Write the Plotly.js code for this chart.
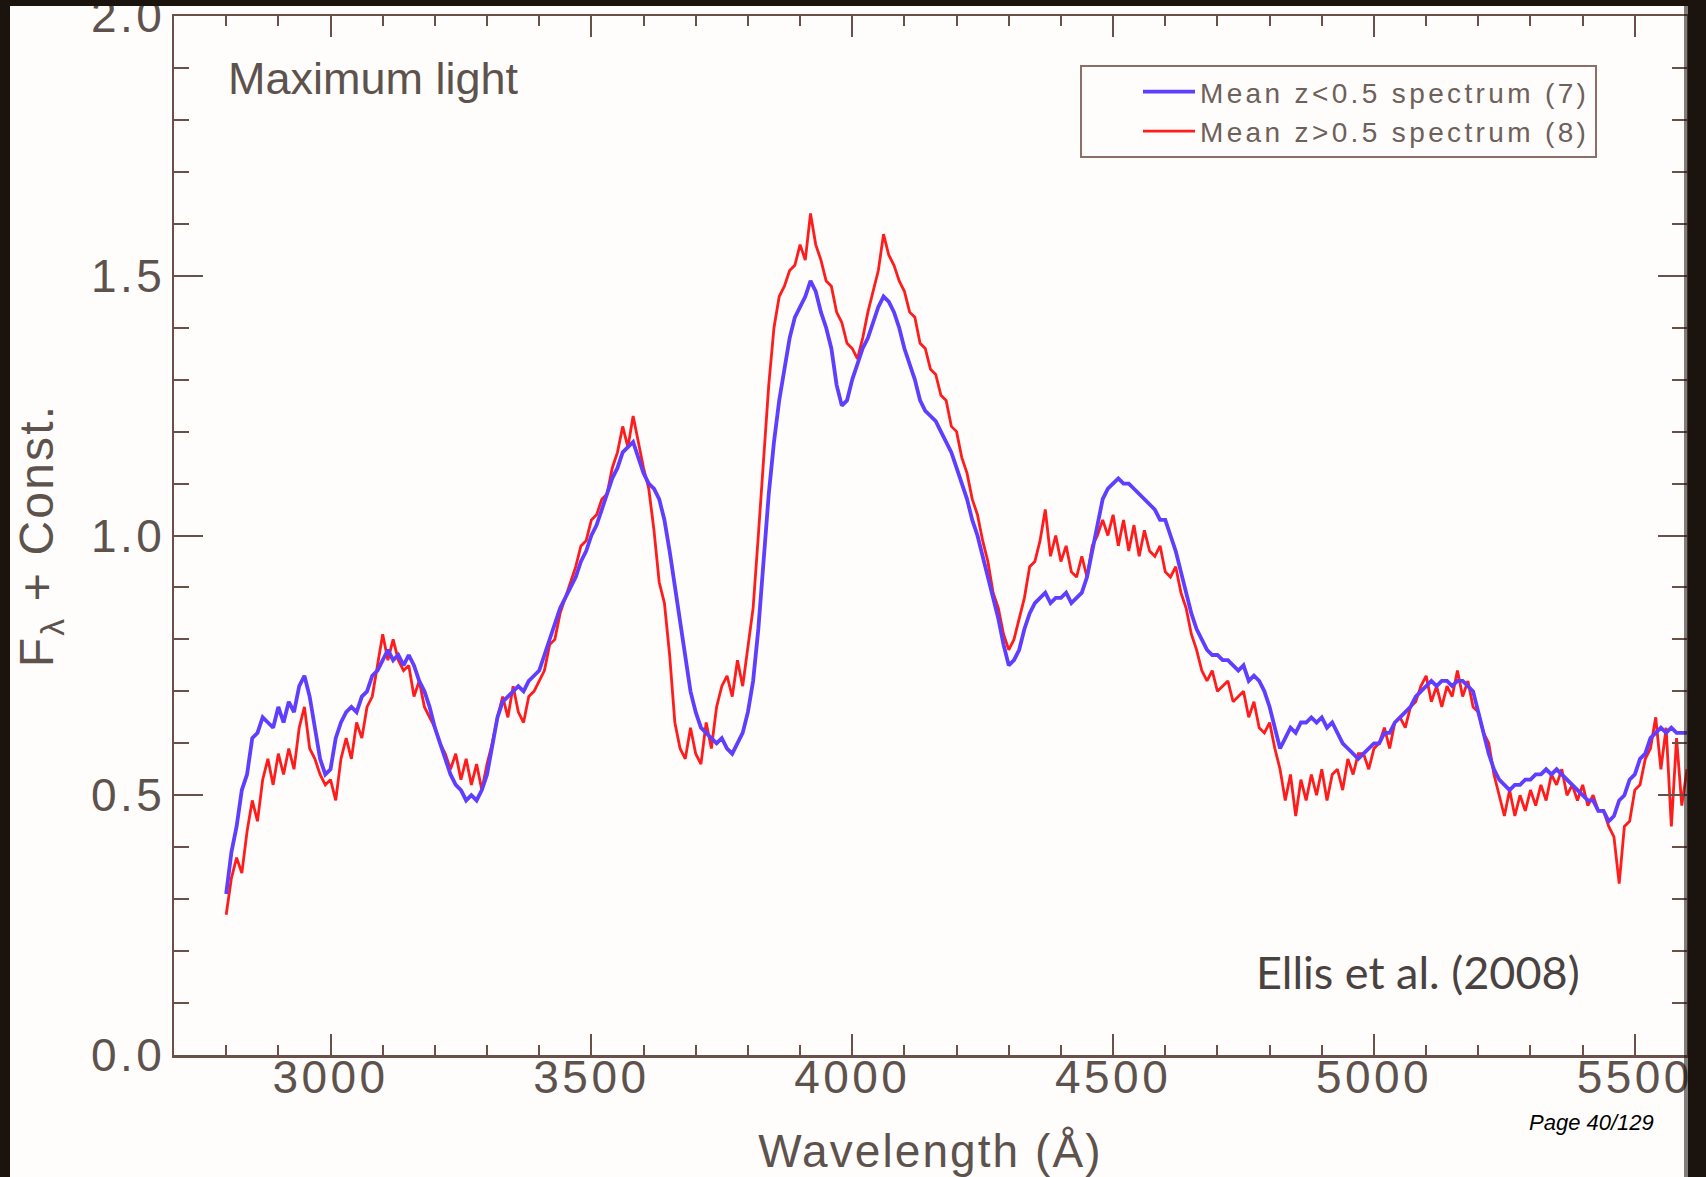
<!DOCTYPE html>
<html>
<head>
<meta charset="utf-8">
<script src="https://cdn.plot.ly/plotly-3.0.1.min.js"></script>
<style>
  html, body { margin: 0; padding: 0; background: #fffdfb; overflow: hidden; }
  #chart { width: 1706px; height: 1177px; }
  g.xtick text, g.ytick text { letter-spacing: 0.075em; }
  text.xtitle, text.ytitle { letter-spacing: 0.045em; }
  text.legendtext { letter-spacing: 0.12em; }
</style>
</head>
<body>
<div id="chart"></div>
<script>
// Wavelength grid (Angstrom), 10 A steps from 2800 to 5600
const wavelength = [];
for (let w = 2800; w <= 5600; w += 10) wavelength.push(w);

// Mean z<0.5 spectrum (7)
const fluxLowZ = [
  0.31, 0.39, 0.44, 0.51, 0.54, 0.61, 0.62, 0.65, 0.64, 0.63,
  0.67, 0.64, 0.68, 0.66, 0.71, 0.73, 0.69, 0.63, 0.57, 0.54,
  0.55, 0.61, 0.64, 0.66, 0.67, 0.66, 0.69, 0.70, 0.73, 0.74,
  0.76, 0.78, 0.76, 0.77, 0.75, 0.77, 0.75, 0.72, 0.70, 0.67,
  0.63, 0.60, 0.57, 0.54, 0.52, 0.51, 0.49, 0.50, 0.49, 0.51,
  0.54, 0.60, 0.65, 0.68, 0.69, 0.70, 0.71, 0.70, 0.72, 0.73,
  0.74, 0.77, 0.80, 0.83, 0.86, 0.88, 0.90, 0.92, 0.95, 0.97,
  1.00, 1.02, 1.05, 1.08, 1.11, 1.13, 1.16, 1.17, 1.18, 1.15,
  1.12, 1.10, 1.09, 1.07, 1.03, 0.97, 0.90, 0.83, 0.76, 0.70,
  0.66, 0.63, 0.62, 0.61, 0.60, 0.61, 0.59, 0.58, 0.60, 0.62,
  0.66, 0.72, 0.82, 0.95, 1.08, 1.18, 1.26, 1.32, 1.38, 1.42,
  1.44, 1.46, 1.49, 1.47, 1.43, 1.40, 1.36, 1.29, 1.25, 1.26,
  1.30, 1.33, 1.36, 1.38, 1.41, 1.44, 1.46, 1.45, 1.43, 1.40,
  1.36, 1.33, 1.30, 1.26, 1.24, 1.23, 1.22, 1.20, 1.18, 1.16,
  1.13, 1.10, 1.07, 1.03, 1.00, 0.96, 0.92, 0.88, 0.84, 0.79,
  0.75, 0.76, 0.78, 0.82, 0.85, 0.87, 0.88, 0.89, 0.87, 0.88,
  0.88, 0.89, 0.87, 0.88, 0.89, 0.92, 0.97, 1.02, 1.07, 1.09,
  1.10, 1.11, 1.10, 1.10, 1.09, 1.08, 1.07, 1.06, 1.05, 1.03,
  1.03, 1.00, 0.97, 0.93, 0.89, 0.85, 0.82, 0.80, 0.78, 0.77,
  0.77, 0.76, 0.76, 0.75, 0.74, 0.75, 0.72, 0.73, 0.72, 0.70,
  0.67, 0.63, 0.59, 0.61, 0.63, 0.62, 0.64, 0.64, 0.65, 0.64,
  0.65, 0.63, 0.64, 0.62, 0.60, 0.59, 0.58, 0.57, 0.58, 0.59,
  0.60, 0.60, 0.62, 0.62, 0.64, 0.65, 0.66, 0.67, 0.69, 0.70,
  0.71, 0.72, 0.71, 0.72, 0.72, 0.71, 0.72, 0.72, 0.71, 0.70,
  0.66, 0.62, 0.58, 0.55, 0.53, 0.52, 0.51, 0.52, 0.52, 0.53,
  0.53, 0.54, 0.54, 0.55, 0.54, 0.55, 0.54, 0.53, 0.52, 0.51,
  0.50, 0.49, 0.49, 0.47, 0.47, 0.45, 0.46, 0.49, 0.50, 0.53,
  0.54, 0.57, 0.58, 0.61, 0.62, 0.63, 0.62, 0.63, 0.62, 0.62,
  0.62
];

// Mean z>0.5 spectrum (8)
const fluxHighZ = [
  0.27, 0.34, 0.38, 0.35, 0.43, 0.49, 0.45, 0.53, 0.57, 0.52,
  0.58, 0.54, 0.59, 0.55, 0.63, 0.67, 0.59, 0.57, 0.54, 0.52,
  0.53, 0.49, 0.57, 0.61, 0.57, 0.64, 0.61, 0.67, 0.69, 0.75,
  0.81, 0.76, 0.80, 0.76, 0.74, 0.75, 0.69, 0.72, 0.67, 0.65,
  0.63, 0.60, 0.58, 0.55, 0.58, 0.53, 0.57, 0.52, 0.56, 0.51,
  0.56, 0.60, 0.65, 0.69, 0.65, 0.71, 0.66, 0.64, 0.69, 0.70,
  0.72, 0.74, 0.79, 0.80, 0.85, 0.88, 0.91, 0.94, 0.98, 0.99,
  1.03, 1.04, 1.07, 1.08, 1.13, 1.16, 1.21, 1.17, 1.23, 1.18,
  1.13, 1.09, 1.01, 0.91, 0.87, 0.77, 0.64, 0.59, 0.57, 0.63,
  0.58, 0.56, 0.64, 0.59, 0.67, 0.71, 0.73, 0.69, 0.76, 0.71,
  0.78, 0.86, 1.00, 1.15, 1.29, 1.40, 1.46, 1.48, 1.51, 1.52,
  1.56, 1.53, 1.62, 1.56, 1.53, 1.49, 1.48, 1.43, 1.41, 1.37,
  1.36, 1.34, 1.38, 1.43, 1.47, 1.51, 1.58, 1.54, 1.52, 1.49,
  1.47, 1.43, 1.42, 1.37, 1.36, 1.32, 1.31, 1.27, 1.26, 1.21,
  1.20, 1.15, 1.12, 1.07, 1.04, 0.99, 0.95, 0.89, 0.86, 0.81,
  0.78, 0.80, 0.84, 0.88, 0.94, 0.95, 0.99, 1.05, 0.96, 1.00,
  0.95, 0.98, 0.93, 0.92, 0.96, 0.92, 0.98, 1.00, 1.03, 1.00,
  1.04, 0.98, 1.03, 0.97, 1.02, 0.96, 1.01, 0.97, 0.96, 0.98,
  0.93, 0.92, 0.94, 0.89, 0.86, 0.81, 0.78, 0.74, 0.72, 0.74,
  0.70, 0.71, 0.72, 0.68, 0.69, 0.70, 0.65, 0.68, 0.63, 0.62,
  0.64, 0.59, 0.55, 0.49, 0.54, 0.46, 0.53, 0.49, 0.54, 0.50,
  0.55, 0.49, 0.54, 0.55, 0.51, 0.57, 0.54, 0.58, 0.58, 0.55,
  0.59, 0.60, 0.63, 0.59, 0.64, 0.65, 0.63, 0.67, 0.68, 0.71,
  0.73, 0.68, 0.71, 0.67, 0.71, 0.69, 0.74, 0.69, 0.72, 0.67,
  0.66, 0.62, 0.60, 0.54, 0.50, 0.46, 0.51, 0.46, 0.50, 0.47,
  0.51, 0.48, 0.52, 0.49, 0.54, 0.52, 0.55, 0.50, 0.52, 0.49,
  0.52, 0.48, 0.50, 0.47, 0.47, 0.44, 0.42, 0.33, 0.44, 0.45,
  0.51, 0.52, 0.57, 0.59, 0.65, 0.55, 0.63, 0.44, 0.61, 0.48,
  0.55
];

const seriesNames = ['Mean z<0.5 spectrum (7)', 'Mean z>0.5 spectrum (8)'];
const seriesColors = ['rgb(96,62,255)', 'rgb(255,28,28)'];
const yTickLabels = ['0.0', '0.5', '1.0', '1.5', '2.0'];
const yTickValues = [0, 0.5, 1.0, 1.5, 2.0];
const xTickValues = [3000, 3500, 4000, 4500, 5000, 5500];
const xTickLabels = ['3000', '3500', '4000', '4500', '5000', '5500'];

const textColor = '#5e524d';
const axisColor = '#6a5049';
const frameColor = '#1b130d';

const traces = [
  { x: wavelength, y: fluxHighZ, type: 'scatter', mode: 'lines', name: seriesNames[1],
    line: { color: seriesColors[1], width: 2.8 } },
  { x: wavelength, y: fluxLowZ, type: 'scatter', mode: 'lines', name: seriesNames[0],
    line: { color: seriesColors[0], width: 3.8 } }
];

const L = 174, R = 1687, T = 16, B = 1055;
const W = 1706, H = 1177;
const pw = R - L, ph = B - T;
const px = v => (v - L) / pw;
const py = v => (B - v) / ph;

const layout = {
  width: W, height: H,
  margin: { l: L, r: W - R, t: T, b: H - B, pad: 0 },
  paper_bgcolor: '#fffdfb',
  plot_bgcolor: '#fffdfb',
  font: { family: '"Liberation Sans", Arial, sans-serif', color: textColor },
  showlegend: true,
  legend: {
    x: px(1080), y: py(65), xanchor: 'left', yanchor: 'top',
    bgcolor: 'rgba(0,0,0,0)', bordercolor: '#8c7068', borderwidth: 2,
    font: { size: 28, color: '#6e605a' }, traceorder: 'reversed',
    indentation: 56, itemwidth: 52, tracegroupgap: 0
  },
  xaxis: {
    range: [2700, 5600], autorange: false,
    tickmode: 'array', tickvals: xTickValues, ticktext: xTickLabels,
    ticks: 'inside', ticklen: 21, tickwidth: 2, tickcolor: axisColor,
    minor: { dtick: 100, tick0: 0, ticks: 'inside', ticklen: 10, tickwidth: 2, tickcolor: axisColor, showgrid: false },
    showline: true, linecolor: axisColor, linewidth: 2.5, mirror: 'ticks',
    showgrid: false, zeroline: false,
    ticklabeloverflow: 'allow', ticklabelstandoff: -20,
    tickfont: { size: 46, color: textColor },
    title: { text: 'Wavelength (Å)', font: { size: 46, color: textColor }, standoff: 34 },
    automargin: false
  },
  yaxis: {
    range: [0, 2.0], autorange: false,
    tickmode: 'array', tickvals: yTickValues, ticktext: yTickLabels,
    ticks: 'inside', ticklen: 29, tickwidth: 2, tickcolor: axisColor,
    minor: { dtick: 0.1, tick0: 0, ticks: 'inside', ticklen: 15, tickwidth: 2, tickcolor: axisColor, showgrid: false },
    showline: true, linecolor: axisColor, linewidth: 2.5, mirror: 'ticks',
    showgrid: false, zeroline: false,
    ticklabeloverflow: 'allow', ticklabelstandoff: -3,
    tickfont: { size: 46, color: textColor },
    title: { text: 'F<sub>λ</sub> + Const.', font: { size: 48, color: textColor }, standoff: 22 },
    automargin: false
  },
  annotations: [
    { text: 'Maximum light', xref: 'paper', yref: 'paper', x: px(226), y: py(78),
      xanchor: 'left', yanchor: 'middle', showarrow: false,
      font: { size: 45, color: textColor, family: '"Liberation Sans", Arial, sans-serif' } },
    { text: 'Ellis et al. (2008)', xref: 'paper', yref: 'paper', x: px(1582), y: py(972),
      xanchor: 'right', yanchor: 'middle', showarrow: false,
      font: { size: 45, color: '#4a4240', family: 'Lato, "Open Sans", sans-serif' } },
    { text: '<i>Page 40/129</i>', xref: 'paper', yref: 'paper', x: px(1656), y: py(1122),
      xanchor: 'right', yanchor: 'middle', showarrow: false,
      font: { size: 22, color: '#000000', family: '"Liberation Sans Narrow", "Liberation Sans", Arial, sans-serif' } }
  ],
  shapes: [
    { type: 'rect', xref: 'paper', yref: 'paper', layer: 'above', x0: px(-5), x1: px(10), y0: py(H + 5), y1: py(-5),
      fillcolor: frameColor, line: { width: 0 } },
    { type: 'rect', xref: 'paper', yref: 'paper', layer: 'above', x0: px(-5), x1: px(W + 5), y0: py(6), y1: py(-5),
      fillcolor: frameColor, line: { width: 0 } },
    { type: 'rect', xref: 'paper', yref: 'paper', layer: 'above', x0: px(1688), x1: px(W + 5), y0: py(H + 5), y1: py(-5),
      fillcolor: frameColor, line: { width: 0 } },
    { type: 'rect', xref: 'paper', yref: 'paper', layer: 'above', x0: px(1684), x1: px(1688), y0: py(H + 5), y1: py(-5),
      fillcolor: 'rgba(27,19,13,0.55)', line: { width: 0 } }
  ]
};

Plotly.newPlot('chart', traces, layout, { displayModeBar: false, staticPlot: true });
</script>
</body>
</html>
